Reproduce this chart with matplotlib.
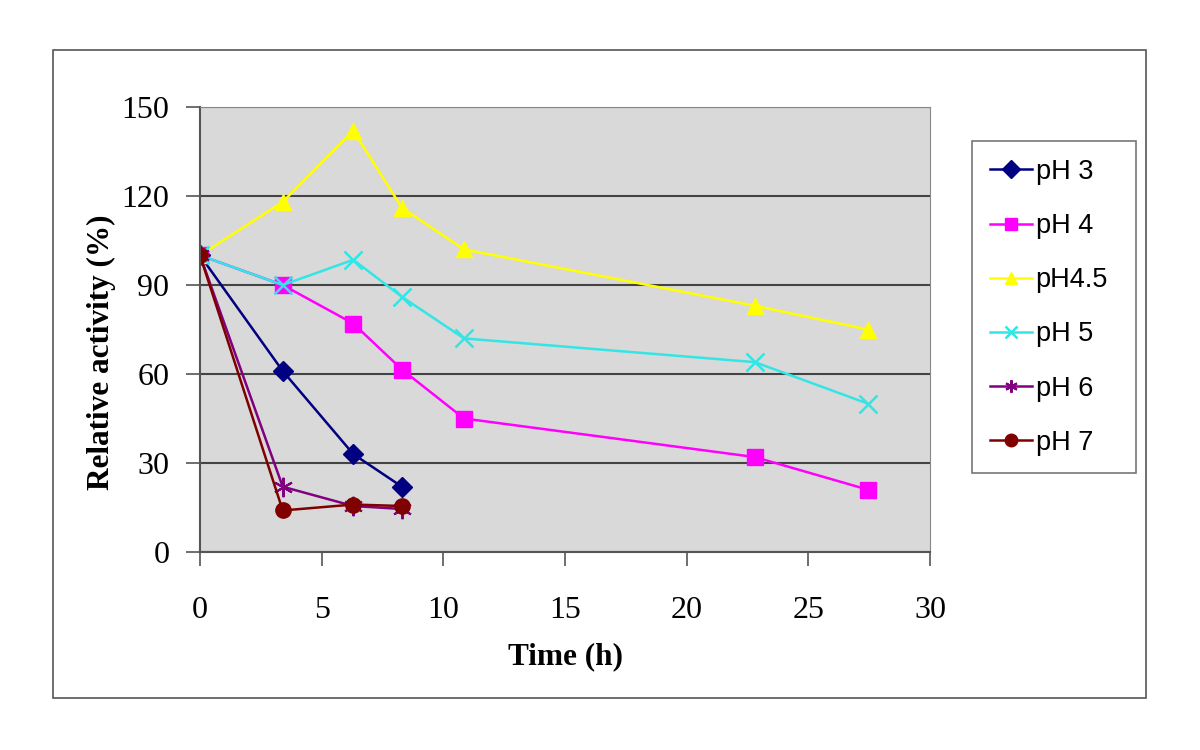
import matplotlib.pyplot as plt
from matplotlib.patches import Rectangle

# data
t_short = [0, 3.4, 6.3, 8.3]
t_long = [0, 3.4, 6.3, 8.3, 10.85, 22.8, 27.45]

ph3 = [100, 61, 33, 22]
ph4 = [100, 90, 77, 61.5, 45, 32, 21]
ph45 = [100, 118, 142, 116, 102, 83, 75]
ph5 = [100, 90, 98.5, 86, 72, 64, 50]
ph6 = [100, 22, 15.5, 14.5]
ph7 = [100, 14, 16, 15.5]

labels = ['pH 3', 'pH 4', 'pH4.5', 'pH 5', 'pH 6', 'pH 7']

fig = plt.figure(figsize=(12, 7.5), dpi=100)
fig.patches.append(Rectangle((53/1200, 1-698/750), (1146-53)/1200, (698-50)/750,
                             transform=fig.transFigure, fill=False,
                             edgecolor='#555555', linewidth=1.2))

ax = fig.add_axes([200/1200, 1-552/750, 730/1200, 445/750])
ax.set_facecolor('#d9d9d9')

ax.plot(t_short, ph3, color='#000080', marker='D', markersize=10, lw=1.8, label=labels[0])
ax.plot(t_long, ph4, color='#ff00ff', marker='s', markersize=11, lw=1.8, label=labels[1])
ax.plot(t_long, ph45, color='#ffff00', marker='^', markersize=12, lw=1.8, label=labels[2])
ax.plot(t_long, ph5, color='#33e5e5', marker='x', markersize=13, mew=1.8, lw=1.8, label=labels[3])
ax.plot(t_short, ph6, color='#800080', marker=(6, 2, 0), markersize=14, mew=1.5, lw=1.8, label=labels[4])
ax.plot(t_short, ph7, color='#800000', marker='o', markersize=11, lw=1.8, label=labels[5])

ax.set_xlim(0, 30)
ax.set_ylim(0, 150)
ax.set_xticks(range(0, 31, 5))
ax.set_yticks(range(0, 151, 30))
ax.yaxis.grid(True, color='#444444', lw=1.5)
ax.set_axisbelow(True)
for s in ['top', 'right']:
    ax.spines[s].set_color('#888888')
for s in ['left', 'bottom']:
    ax.spines[s].set_color('#555555')
    ax.spines[s].set_linewidth(1.5)
ax.tick_params(direction='out', length=10, width=1.2, color='#555555',
               labelsize=23)
ax.tick_params(axis='x', pad=22)
ax.tick_params(axis='y', pad=12)
for lab in ax.get_xticklabels() + ax.get_yticklabels():
    lab.set_fontfamily('Liberation Serif')

ax.set_xlabel('Time (h)', fontfamily='Liberation Serif', fontweight='bold',
              fontsize=22.5, labelpad=12)
ax.set_ylabel('Relative activity (%)', fontfamily='Liberation Serif',
              fontweight='bold', fontsize=22.5)
ax.yaxis.set_label_coords(-0.115, 0.45)

leg = fig.legend(loc='upper left',
                 bbox_to_anchor=(972/1200, 1-142/750, 164/1200, 0.001),
                 mode='expand',
                 prop={'family': 'Liberation Sans', 'size': 19.5},
                 frameon=True, fancybox=False, edgecolor='#555555',
                 handlelength=1.55, labelspacing=1.04, borderpad=0.65,
                 handletextpad=0.15, borderaxespad=0)
leg.get_frame().set_linewidth(1.2)
for h in leg.legend_handles:
    h.set_markersize(9)

fig.savefig('out.png', dpi=100)
